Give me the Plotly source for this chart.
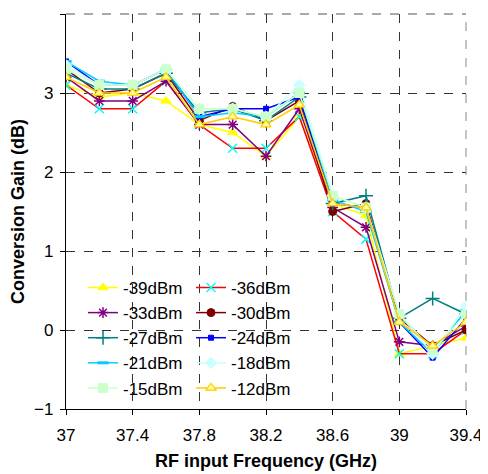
import plotly.graph_objects as go

freq = [37.0, 37.2, 37.4, 37.6, 37.8, 38.0, 38.2, 38.4, 38.6, 38.8, 39.0, 39.2, 39.4]

g_m39 = [3.1, 2.95, 3.0, 2.9, 2.6, 2.5, 2.2, 2.7, 1.6, 1.45, -0.3, -0.2, -0.1]
g_m36 = [3.1, 2.8, 2.8, 3.15, 2.6, 2.3, 2.3, 2.7, 1.5, 1.15, -0.3, -0.3, 0.0]
g_m33 = [3.2, 2.9, 2.9, 3.15, 2.6, 2.6, 2.2, 2.8, 1.55, 1.3, -0.15, -0.2, 0.05]
g_m30 = [3.3, 3.0, 3.05, 3.25, 2.65, 2.83, 2.65, 2.9, 1.5, 1.6, 0.15, -0.2, 0.0]
g_m27 = [3.25, 3.05, 3.05, 3.25, 2.75, 2.8, 2.65, 2.95, 1.6, 1.7, 0.15, 0.4, 0.2]
g_m24 = [3.4, 3.1, 3.1, 3.3, 2.7, 2.8, 2.8, 2.95, 1.6, 1.55, 0.1, -0.35, 0.15]
g_m21 = [3.4, 3.15, 3.1, 3.3, 2.7, 2.75, 2.7, 3.0, 1.65, 1.5, 0.1, -0.3, 0.25]
g_m18 = [3.35, 3.1, 3.1, 3.3, 2.8, 2.8, 2.7, 3.1, 1.7, 1.55, 0.2, -0.3, 0.3]
g_m15 = [3.3, 3.1, 3.1, 3.3, 2.8, 2.8, 2.7, 3.0, 1.7, 1.55, 0.2, -0.25, 0.2]
g_m12 = [3.2, 3.0, 3.0, 3.2, 2.6, 2.7, 2.6, 2.85, 1.6, 1.55, 0.1, -0.2, 0.1]

x_ticks = [37, 37.4, 37.8, 38.2, 38.6, 39, 39.4]
x_tick_labels = ["37", "37.4", "37.8", "38.2", "38.6", "39", "39.4"]
y_ticks = [-1, 0, 1, 2, 3, 4]

series = [
    ("-39dBm", g_m39, "#FFFF00", dict(symbol="triangle-up", size=9, color="#FFFF00", line=dict(color="#FFFF00", width=1)), "legend"),
    ("-36dBm", g_m36, "#FF0000", dict(symbol="x-thin", size=9, color="#00FFFF", line=dict(color="#00FFFF", width=1.5)), "legend2"),
    ("-33dBm", g_m33, "#800080", dict(symbol="asterisk", size=9, color="#800080", line=dict(color="#800080", width=1.5)), "legend"),
    ("-30dBm", g_m30, "#800000", dict(symbol="circle", size=8, color="#800000", line=dict(color="#800000", width=1)), "legend2"),
    ("-27dBm", g_m27, "#008080", dict(symbol="cross-thin", size=10, color="#008080", line=dict(color="#008080", width=1.5)), "legend"),
    ("-24dBm", g_m24, "#0000FF", dict(symbol="square", size=5, color="#0000FF", line=dict(color="#0000FF", width=1)), "legend2"),
    ("-21dBm", g_m21, "#00CCFF", dict(symbol="line-ew", size=8, color="#00CCFF", line=dict(color="#00CCFF", width=3)), "legend"),
    ("-18dBm", g_m18, "#CCFFFF", dict(symbol="diamond", size=9, color="#CCFFFF", line=dict(color="#CCFFFF", width=1)), "legend2"),
    ("-15dBm", g_m15, "#CCFFCC", dict(symbol="square", size=9, color="#CCFFCC", line=dict(color="#CCFFCC", width=1)), "legend"),
    ("-12dBm", g_m12, "#FFCC00", dict(symbol="triangle-up", size=9, color="#FFFF99", line=dict(color="#FFCC00", width=1.2)), "legend2"),
]

fig = go.Figure()
for name, vals, col, mk, lg in series:
    fig.add_trace(go.Scatter(
        x=freq, y=vals, name=name, mode="lines+markers",
        line=dict(color=col, width=1.5), marker=mk, legend=lg,
    ))

font_family = "Liberation Sans, Arial, sans-serif"
# page body adds an 8px offset, so the figure is 8px smaller and margins shifted
fig.update_layout(
    width=480, height=466,
    margin=dict(l=58, r=22, t=6, b=65, autoexpand=False),
    paper_bgcolor="white", plot_bgcolor="white",
    font=dict(family=font_family, size=17, color="black"),
    legend=dict(x=0.0425, y=0.352, xanchor="left", yanchor="top",
                bgcolor="rgba(255,255,255,0)", font=dict(size=17),
                tracegroupgap=0, itemwidth=30),
    legend2=dict(x=0.3125, y=0.352, xanchor="left", yanchor="top",
                 bgcolor="rgba(255,255,255,0)", font=dict(size=17),
                 tracegroupgap=0, itemwidth=30),
    showlegend=True,
    shapes=[
        dict(type="line", xref="paper", yref="paper", x0=0, x1=1, y0=1, y1=1,
             line=dict(color="#555555", width=1, dash="dash"), layer="below"),
        dict(type="line", xref="paper", yref="paper", x0=1, x1=1, y0=0, y1=1,
             line=dict(color="#888888", width=1, dash="dash"), layer="below"),
    ],
)
fig.update_xaxes(
    range=[37, 39.4], tickvals=x_ticks, ticktext=x_tick_labels,
    showgrid=True, gridcolor="#333333", griddash="dash", gridwidth=1,
    showline=True, linecolor="black", linewidth=1.2, mirror=False,
    ticks="outside", ticklen=5, tickcolor="black", automargin=False,
    ticklabelstandoff=5,
    zeroline=False, tickfont=dict(size=17),
    title=dict(text="<b>RF input Frequency (GHz)</b>", font=dict(size=18), standoff=10),
)
fig.update_yaxes(
    range=[-1, 4], tickvals=y_ticks,
    showgrid=True, gridcolor="#333333", griddash="dash", gridwidth=1,
    showline=True, linecolor="black", linewidth=1.2, automargin=False,
    ticks="outside", ticklen=5, tickcolor="black", ticklabelstandoff=3,
    zeroline=False, tickfont=dict(size=17),
    title=dict(text="<b>Conversion Gain (dB)</b>", font=dict(size=18), standoff=6),
)
fig.write_html("out.html")
